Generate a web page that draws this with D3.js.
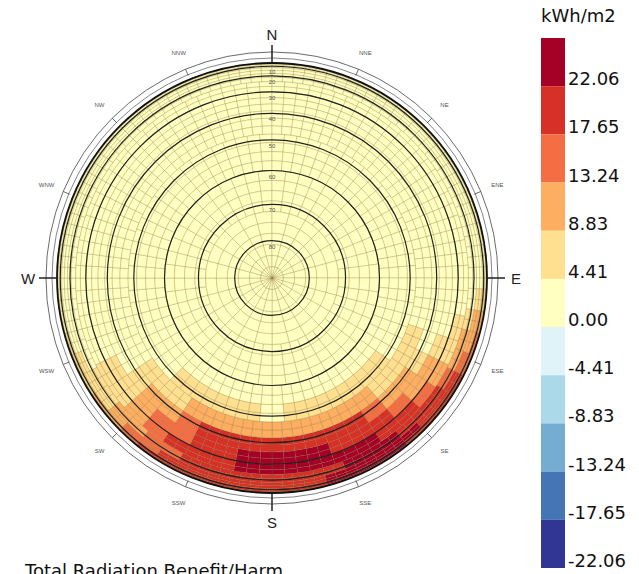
<!DOCTYPE html>
<html>
<head>
<meta charset="utf-8">
<script src="https://cdn.jsdelivr.net/npm/d3@7"></script>
<style>
  body { margin: 0; background: #fff; }
  text { font-family: "Liberation Sans", Arial, sans-serif; }
  .big { font-family: "DejaVu Sans", sans-serif; }
</style>
</head>
<body>
<script>
// Set the dimensions of the canvas
var width = 639, height = 574;
var cx = 272, cy = 278, R = 215;

// Legend bins (kWh/m2) and colours, bottom to top
var legendLabels = ["22.06", "17.65", "13.24", "8.83", "4.41", "0.00", "-4.41", "-8.83", "-13.24", "-17.65", "-22.06"];
var thresholds = [-17.65, -13.24, -8.83, -4.41, 0, 4.41, 8.83, 13.24, 17.65, 22.06];
var colours = ["#313695", "#4575b4", "#74add1", "#abd9e9", "#e0f3f8", "#ffffbf",
               "#fee090", "#fdae61", "#f46d43", "#d73027", "#a50026"];

// Sky patch values (kWh/m2), one array per 6 degree altitude band,
// patches ordered by azimuth clockwise from north
var alt00 = [2.1,2.1,2.1,2.1,2.1,2.1,2.1,2.1,2.1,2.1,2.1,2.1,2.1,2.1,2.1,2.1,
             6.4,10.9,15.3,15.3,19.7,19.7,19.7,19.7,23.5,23.5,23.5,22.4,19.7,19.7,
             19.7,19.7,19.7,19.7,19.7,19.7,19.7,15.3,10.9,10.9,6.4,6.4,6.4,2.1,
             2.1,2.1,2.1,2.1,2.1,2.1,2.1,2.1,2.1,2.1,2.1,2.1,2.1,2.1,2.1,2.1];
var alt06 = [2.1,2.1,2.1,2.1,2.1,2.1,2.1,2.1,2.1,2.1,2.1,2.1,2.1,2.1,2.1,2.1,
             6.4,10.9,15.3,15.3,19.7,19.7,19.7,19.7,23.5,23.5,23.5,23.5,19.7,19.7,
             19.7,19.7,19.7,19.7,19.7,19.7,19.7,15.3,10.9,10.9,6.4,6.4,6.4,2.1,
             2.1,2.1,2.1,2.1,2.1,2.1,2.1,2.1,2.1,2.1,2.1,2.1,2.1,2.1,2.1,2.1];
var alt12 = [2.1,2.1,2.1,2.1,2.1,2.1,2.1,2.1,2.1,2.1,2.1,2.1,2.1,2.1,2.1,2.1,
             6.4,10.9,10.9,15.3,19.7,19.7,19.7,23.5,23.5,23.5,23.5,22.6,19.7,19.7,
             19.7,19.7,19.7,19.7,19.7,19.7,15.3,15.3,10.9,6.4,6.4,6.4,2.1,2.1,
             2.1,2.1,2.1,2.1,2.1,2.1,2.1,2.1,2.1,2.1,2.1,2.1,2.1,2.1,2.1,2.1];
var alt18 = [2.1,2.1,2.1,2.1,2.1,2.1,2.1,2.1,2.1,2.1,2.1,2.1,2.1,2.1,2.1,2.1,
             2.1,6.4,10.9,10.9,15.3,19.7,19.7,19.7,23.5,23.5,23.5,19.7,19.7,19.7,
             19.7,19.7,19.7,19.7,19.7,15.3,15.3,10.9,10.9,6.4,6.4,2.1,2.1,2.1,
             2.1,2.1,2.1,2.1,2.1,2.1,2.1,2.1,2.1,2.1,2.1,2.1,2.1,2.1,2.1,2.1];
var alt24 = [2.1,2.1,2.1,2.1,2.1,2.1,2.1,2.1,2.1,2.1,2.1,2.1,2.1,2.1,
             6.4,6.4,10.9,15.3,19.7,19.7,22.8,22.8,23.5,23.5,23.5,23.5,19.7,19.7,
             19.7,15.3,10.9,6.4,6.4,2.1,2.1,2.1,2.1,2.1,2.1,2.1,2.1,2.1,2.1,2.1,
             2.1,2.1,2.1,2.1];
var alt30 = [2.1,2.1,2.1,2.1,2.1,2.1,2.1,2.1,2.1,2.1,2.1,2.1,2.1,2.1,
             2.1,6.4,10.9,10.9,15.3,19.7,19.7,19.7,23.5,23.5,23.5,23.5,19.7,19.7,
             15.3,15.3,10.9,6.4,6.4,2.1,2.1,2.1,2.1,2.1,2.1,2.1,2.1,2.1,2.1,2.1,
             2.1,2.1,2.1,2.1];
var alt36 = [2.1,2.1,2.1,2.1,2.1,2.1,2.1,2.1,2.1,2.1,2.1,2.1,2.1,2.1,
             2.1,2.1,6.4,10.9,10.9,15.3,19.7,19.7,19.7,19.7,19.7,19.7,19.7,19.7,
             15.3,10.9,10.9,6.4,2.1,2.1,2.1,2.1,2.1,2.1,2.1,2.1,2.1,2.1,2.1,2.1,
             2.1,2.1,2.1,2.1];
var alt42 = [2.1,2.1,2.1,2.1,2.1,2.1,2.1,2.1,2.1,2.1,2.1,2.1,2.1,2.1,
             2.1,6.4,6.4,6.4,6.4,10.9,10.9,10.9,10.9,10.9,10.9,10.9,10.9,10.9,
             10.9,6.4,6.4,6.4,2.1,2.1,2.1,2.1,2.1,2.1,2.1,2.1,2.1,2.1,2.1,2.1,
             2.1,2.1,2.1,2.1];
var alt48 = [2.1,2.1,2.1,2.1,2.1,2.1,2.1,2.1,2.1,2.1,2.1,2.1,2.1,
             6.4,6.4,6.4,6.4,6.4,2.1,6.4,6.4,6.4,6.4,2.1,2.1,2.1,2.1,2.1,2.1,2.1,
             2.1,2.1,2.1,2.1,2.1,2.1];
var alt54 = [2.1,2.1,2.1,2.1,2.1,2.1,2.1,2.1,2.1,2.1,2.1,2.1,2.1,2.1,2.1,2.1,
             2.1,2.1,2.1,2.1,2.1,2.1,2.1,2.1,2.1,2.1,2.1,2.1,2.1,2.1,2.1,2.1,
             2.1,2.1,2.1,2.1];
var alt60 = [1.8,1.8,1.8,1.8,1.8,1.8,1.8,1.8,1.8,1.8,1.8,1.8,
             1.8,1.8,1.8,1.8,1.8,1.8,1.8,1.8,1.8,1.8,1.8,1.8];
var alt66 = [1.6,1.6,1.6,1.6,1.6,1.6,1.6,1.6,1.6,1.6,1.6,1.6,
             1.6,1.6,1.6,1.6,1.6,1.6,1.6,1.6,1.6,1.6,1.6,1.6];
var alt72 = [1.4,1.4,1.4,1.4,1.4,1.4,1.4,1.4,1.4,1.4,1.4,1.4];
var alt78 = [1.2,1.2,1.2,1.2,1.2,1.2,1.2,1.2,1.2,1.2,1.2,1.2];
var alt84 = [1.0];

var skyRows = [alt00, alt06, alt12, alt18, alt24, alt30, alt36, alt42,
               alt48, alt54, alt60, alt66, alt72, alt78, alt84];

// Altitude rings and compass labels
var altRings = [10, 20, 30, 40, 50, 60, 70, 80];
var cardinals = [{t: "N", a: 0}, {t: "E", a: 90}, {t: "S", a: 180}, {t: "W", a: 270}];
var minorDirs = ["NNE", "NE", "ENE", "ESE", "SE", "SSE", "SSW", "SW", "WSW", "WNW", "NW", "NNW"];
var minorAz = [22.5, 45, 67.5, 112.5, 135, 157.5, 202.5, 225, 247.5, 292.5, 315, 337.5];

// Scales
var colour = d3.scaleThreshold().domain(thresholds).range(colours);
var ang = d3.scaleLinear().domain([0, 360]).range([0, 2 * Math.PI]);
function rad(alt) { return R * Math.cos(alt * Math.PI / 180); } // orthographic

var svg = d3.select("body").append("svg")
    .attr("width", width).attr("height", height);

var dome = svg.append("g").attr("transform", "translate(" + cx + "," + cy + ")");

// Sky patches, each drawn as a 2x2 mesh of faces
var arc = d3.arc();
var faces = [];
skyRows.forEach(function(row, k) {
    var cap = row.length === 1;
    var n = cap ? 12 : row.length, step = 360 / n;
    for (var i = 0; i < n; i++) {
        var v = cap ? row[0] : row[i];
        for (var a = 0; a < 2; a++) {
            for (var b = 0; b < 2; b++) {
                var a0 = i * step - step / 2 + a * step / 2;
                faces.push({
                    v: v,
                    outer: rad(k * 6 + b * 3),
                    inner: (cap && b === 1) ? 0 : rad(k * 6 + b * 3 + 3),
                    a0: a0,
                    a1: a0 + step / 2
                });
            }
        }
    }
});

dome.selectAll("path.patch")
    .data(faces)
  .enter().append("path")
    .attr("class", "patch")
    .attr("d", function(d) {
        return arc({innerRadius: d.inner, outerRadius: d.outer,
                    startAngle: ang(d.a0), endAngle: ang(d.a1)});
    })
    .style("fill", function(d) { return colour(d.v); })
    .style("stroke", "rgba(130,105,40,0.5)")
    .style("stroke-width", 0.5);

// Altitude circles
dome.selectAll("circle.alt")
    .data(altRings)
  .enter().append("circle")
    .attr("class", "alt")
    .attr("r", function(d) { return rad(d); })
    .style("fill", "none")
    .style("stroke", "#222")
    .style("stroke-width", 1.2);

dome.selectAll("text.alt")
    .data(altRings)
  .enter().append("text")
    .attr("class", "alt")
    .attr("x", 0)
    .attr("y", function(d) { return -rad(d) + 8; })
    .style("text-anchor", "middle")
    .style("font-size", "6px")
    .style("fill", "#555")
    .text(function(d) { return d; });

// Horizon and outer compass rings
dome.append("circle").attr("r", R)
    .style("fill", "none").style("stroke", "#111").style("stroke-width", 1.8);
dome.append("circle").attr("r", 220)
    .style("fill", "none").style("stroke", "#666").style("stroke-width", 0.8);
dome.append("circle").attr("r", 226)
    .style("fill", "none").style("stroke", "#444").style("stroke-width", 0.8);

// Minor direction ticks and labels
minorAz.forEach(function(a, i) {
    var t = ang(a);
    dome.append("line")
        .attr("x1", 219 * Math.sin(t)).attr("y1", -219 * Math.cos(t))
        .attr("x2", 226 * Math.sin(t)).attr("y2", -226 * Math.cos(t))
        .style("stroke", "#444").style("stroke-width", 0.8);
    dome.append("text")
        .attr("x", 244 * Math.sin(t)).attr("y", -244 * Math.cos(t) + 2)
        .style("text-anchor", "middle")
        .style("font-size", "6px")
        .style("fill", "#555")
        .text(minorDirs[i]);
});

// Cardinal ticks and labels
cardinals.forEach(function(c) {
    var t = ang(c.a);
    dome.append("line")
        .attr("x1", R * Math.sin(t)).attr("y1", -R * Math.cos(t))
        .attr("x2", 233 * Math.sin(t)).attr("y2", -233 * Math.cos(t))
        .style("stroke", "#222").style("stroke-width", 1.5);
    dome.append("text")
        .attr("x", 244 * Math.sin(t)).attr("y", -244 * Math.cos(t) + 5.5)
        .style("text-anchor", "middle")
        .style("font-size", "15px")
        .style("fill", "#222")
        .text(c.t);
});

// Legend
var ly = d3.scaleBand().domain(legendLabels).range([38, 568]);
var legend = svg.append("g");
legend.selectAll("rect")
    .data(legendLabels)
  .enter().append("rect")
    .attr("x", 541)
    .attr("y", function(d) { return ly(d); })
    .attr("width", 24)
    .attr("height", ly.bandwidth())
    .style("fill", function(d, i) { return colours[colours.length - 1 - i]; });

legend.selectAll("text.lab")
    .data(legendLabels)
  .enter().append("text")
    .attr("class", "lab big")
    .attr("x", 568)
    .attr("y", function(d) { return ly(d) + ly.bandwidth() - 1; })
    .style("font-size", "18px")
    .style("fill", "#111")
    .text(function(d) { return d; });

svg.append("text")
    .attr("class", "big")
    .attr("x", 541).attr("y", 22)
    .style("font-size", "18px")
    .style("fill", "#111")
    .text("kWh/m2");

// Chart title
svg.append("text")
    .attr("class", "big")
    .attr("x", 25).attr("y", 577)
    .style("font-size", "18px")
    .style("fill", "#111")
    .text("Total Radiation Benefit/Harm");
</script>
</body>
</html>
